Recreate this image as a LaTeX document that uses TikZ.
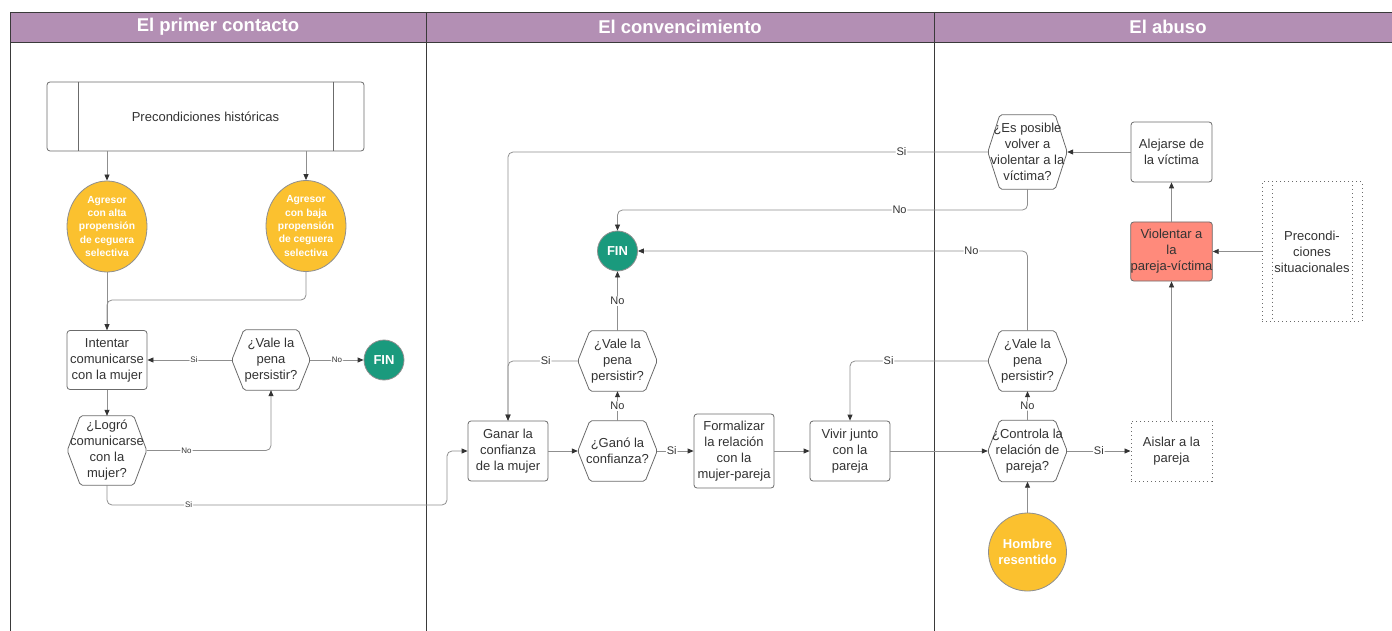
\documentclass[tikz,border=0pt]{standalone}
\usepackage{fontspec}
\setmainfont{Liberation Sans}
\usetikzlibrary{arrows.meta,shapes.geometric}
\definecolor{hdr}{HTML}{B38FB4}
\definecolor{txt}{HTML}{333333}
\definecolor{bord}{HTML}{6B6B6B}
\definecolor{lin}{HTML}{8F8F8F}
\definecolor{arr}{HTML}{333333}
\definecolor{orng}{HTML}{FBC12F}
\definecolor{grn}{HTML}{1A9A7D}
\definecolor{salm}{HTML}{FF8A7B}
\definecolor{lane}{HTML}{3A3A3A}
\newcommand\hexdraw[2][12]{\draw[hexline] (#2.west) -- ([xshift=#1pt]#2.north west) -- ([xshift=-#1pt]#2.north east) -- (#2.east) -- ([xshift=-#1pt]#2.south east) -- ([xshift=#1pt]#2.south west) -- cycle;}
\begin{document}
\begin{tikzpicture}[x=1pt,y=-1pt,
  every node/.style={font=\fontsize{13}{16}\selectfont, text=txt, align=center, inner sep=0pt},
  box/.style={draw=bord, line width=0.8pt, rounded corners=3pt, minimum width=80pt, minimum height=60pt, fill=white},
  hexn/.style={minimum width=79pt, minimum height=60pt},
  hexline/.style={draw=bord, line width=0.8pt, rounded corners=2pt, fill=white},
  ell/.style={ellipse, draw=lin, line width=0.8pt, fill=orng, minimum width=80pt, minimum height=91pt, text=white, font=\fontsize{10.3}{13.3}\selectfont\bfseries},
  fin/.style={circle, draw=lin, line width=0.8pt, fill=grn, minimum size=40pt, text=white, font=\fontsize{13}{15}\selectfont\bfseries},
  conn/.style={draw=lin, line width=0.8pt, rounded corners=5pt, -{Triangle[length=6pt,width=5pt,color=arr]}},
  line/.style={draw=lin, line width=0.8pt, rounded corners=5pt},
  lab/.style={fill=white, font=\fontsize{11}{13}\selectfont, inner sep=1pt, text=txt},
  labs/.style={lab, font=\fontsize{8}{10}\selectfont},
  hdrtxt/.style={text=white, font=\fontsize{18.5}{22}\selectfont\bfseries},
  dotbox/.style={draw=bord, line width=1pt, dash pattern=on 1pt off 3pt, minimum width=81pt, minimum height=60pt}]
\useasboundingbox (0,0) rectangle (1392,631);
% lanes
\fill[hdr] (10,12) rectangle (1395,42);
\draw[lane, line width=0.9pt] (1395,12) -- (10,12) -- (10,631);
\draw[lane, line width=0.9pt] (10,42) -- (1395,42);
\draw[lane, line width=0.9pt] (426,12) -- (426,631);
\draw[lane, line width=0.9pt] (934,12) -- (934,631);
\node[hdrtxt] (h1) at (218,27) {El primer contacto};
\node[hdrtxt] (h2) at (680,27) {El convencimiento};
\node[hdrtxt] (h3) at (1168,27) {El abuso};

% lane 1 nodes
\node[box, minimum width=317pt, minimum height=69pt] (ph) at (205.5,116.5) {Precondiciones históricas};
\draw[bord, line width=0.8pt] ([xshift=32pt]ph.north west) -- ([xshift=32pt]ph.south west);
\draw[bord, line width=0.8pt] ([xshift=-31pt]ph.north east) -- ([xshift=-31pt]ph.south east);
\node[ell] (alta) at (107,226.5) {Agresor\\con alta\\propensión\\de ceguera\\selectiva};
\node[ell] (baja) at (306,226) {Agresor\\con baja\\propensión\\de ceguera\\selectiva};
\node[box, minimum height=59pt] (int) at (107,360) {Intentar\\comunicarse\\con la mujer};
\node[hexn, minimum width=78pt] (vale1) at (271,360) {};
\hexdraw{vale1}
\node at (vale1) {¿Vale la\\pena\\persistir?};
\node[fin] (fin1) at (384,360) {FIN};
\node[hexn, minimum height=69pt] (logro) at (107,450.5) {};
\hexdraw[13]{logro}
\node at (logro) {¿Logró\\comunicarse\\con la\\mujer?};

% lane 2 nodes
\node[box] (ganar) at (508,451) {Ganar la\\confianza\\de la mujer};
\node[hexn] (gano) at (617.5,451) {};
\hexdraw{gano}
\node at (gano) {¿Ganó la\\confianza?};
\node[box, minimum height=74pt] (form) at (734,451) {Formalizar\\la relación\\con la\\mujer-pareja};
\node[box] (vivir) at (850,451) {Vivir junto\\con la\\pareja};
\node[hexn] (vale2) at (617.5,361) {};
\hexdraw{vale2}
\node at (vale2) {¿Vale la\\pena\\persistir?};
\node[fin] (fin2) at (617.5,251) {FIN};

% lane 3 nodes
\node[hexn, minimum height=74pt] (espos) at (1027.5,152) {};
\hexdraw{espos}
\node at (espos) {¿Es posible\\volver a\\violentar a la\\víctima?};
\node[box, minimum width=81pt] (alej) at (1171.5,152) {Alejarse de\\la víctima};
\node[box, minimum width=81pt, minimum height=59pt, fill=salm] (viol) at (1171.5,251.5) {Violentar a\\la\\pareja-víctima};
\node[dotbox, minimum width=100pt, minimum height=139pt] (presit) at (1312,251.5) {Precondi-\\ciones\\situacionales};
\draw[bord, line width=1pt, dash pattern=on 1pt off 3pt] ([xshift=11pt]presit.north west) -- ([xshift=11pt]presit.south west);
\draw[bord, line width=1pt, dash pattern=on 1pt off 3pt] ([xshift=-10pt]presit.north east) -- ([xshift=-10pt]presit.south east);
\node[hexn] (vale3) at (1027.5,361) {};
\hexdraw{vale3}
\node at (vale3) {¿Vale la\\pena\\persistir?};
\node[hexn, minimum height=61pt] (ctrl) at (1027.5,451) {};
\hexdraw{ctrl}
\node at (ctrl) {¿Controla la\\relación de\\pareja?};
\node[dotbox] (aislar) at (1171.5,451) {Aislar a la\\pareja};
\node[circle, draw=lin, line width=0.8pt, fill=orng, minimum size=78pt, text=white, font=\fontsize{13}{16}\selectfont\bfseries] (hombre) at (1027.5,552) {Hombre\\resentido};

% connectors lane 1
\coordinate (j1) at (107,300);
\coordinate (j2) at (447,505);
\coordinate (j3) at (617.5,210);
\draw[conn] (ph.south -| alta.north) -- (alta.north);
\draw[conn] (ph.south -| baja.north) -- (baja.north);
\draw[line] (baja.south) |- (j1) -- (int.north);
\draw[conn] (alta.south) -- (int.north);
\draw[conn] (vale1.west) -- node[labs,pos=0.45]{Si} (int.east);
\draw[conn] (vale1.east) -- node[labs]{No} (fin1.west);
\draw[conn] (int.south) -- (logro.north);
\draw[conn] (logro.east) -| node[labs,pos=0.16]{No} (vale1.south);
\draw[conn] (logro.south) |- node[labs,pos=0.62]{Si} (j2) |- (ganar.west);

% connectors lane 2
\draw[conn] (ganar.east) -- (gano.west);
\draw[conn] (gano.east) -- node[lab,pos=0.4]{Si} (form.west);
\draw[conn] (form.east) -- (vivir.west);
\draw[conn] (vivir.east) -- (ctrl.west);
\draw[conn] (gano.north) -- node[lab]{No} (vale2.south);
\draw[conn] (vale2.west) -| node[lab,pos=0.23]{Si} (ganar.north);
\draw[conn] (vale2.north) -- node[lab]{No} (fin2.south);

% connectors lane 3
\draw[conn] (espos.west) -| node[lab,pos=0.09]{Si} (ganar.north);
\draw[conn] (espos.south) |- node[lab,pos=0.656]{No} (j3) -- (fin2.north);
\draw[conn] (vale3.north) |- node[lab,pos=0.572]{No} (fin2.east);
\draw[conn] (vale3.west) -| node[lab,pos=0.36]{Si} (vivir.north);
\draw[conn] (ctrl.north) -- node[lab]{No} (vale3.south);
\draw[conn] (ctrl.east) -- node[lab]{Si} (aislar.west);
\draw[conn] (aislar.north) -- (viol.south);
\draw[conn] (viol.north) -- (alej.south);
\draw[conn] (alej.west) -- (espos.east);
\draw[conn] (presit.west) -- (viol.east);
\draw[conn] (hombre.north) -- (ctrl.south);
\end{tikzpicture}
\end{document}
